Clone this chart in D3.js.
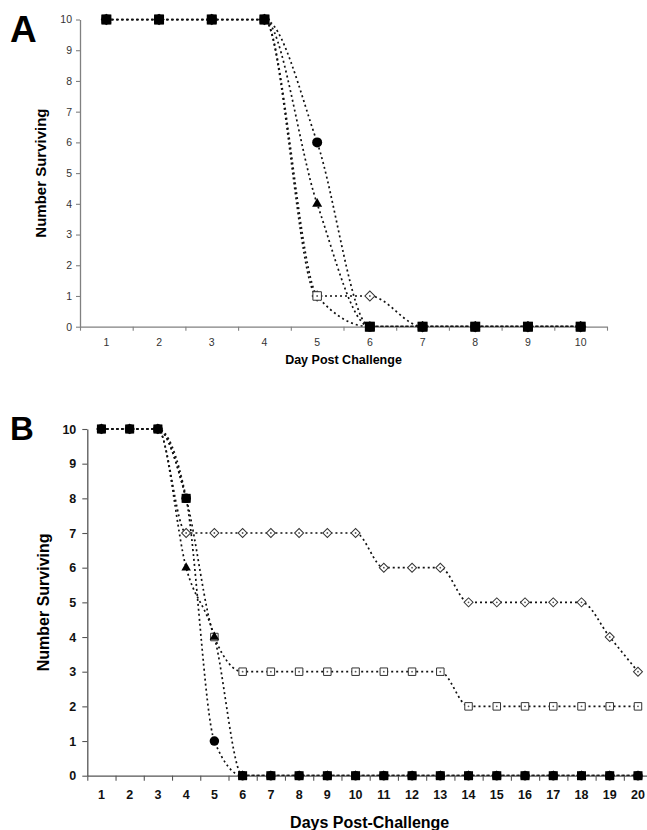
<!DOCTYPE html>
<html>
<head>
<meta charset="utf-8">
<script src="https://cdn.jsdelivr.net/npm/d3@7"></script>
<style>
  body { margin: 0; background: white; }
  text { font-family: "Liberation Sans", Arial, sans-serif; }
</style>
</head>
<body>
<script>
// Panel A
const daysA = [1, 2, 3, 4, 5, 6, 7, 8, 9, 10];
const aFilledSquare = [10, 10, 10, 10, null, 0, 0, 0, 0, 0];
const aCircle = [10, 10, 10, 10, 6, 0, 0, 0, 0, 0];
const aTriangle = [10, 10, 10, 10, 4, 0, 0, 0, 0, 0];
const aOpenSquare = [10, 10, 10, 10, 1, 0, 0, 0, 0, 0];
const aDiamond = [10, 10, 10, 10, 1, 1, 0, 0, 0, 0];

// Panel B
const daysB = [1, 2, 3, 4, 5, 6, 7, 8, 9, 10, 11, 12, 13, 14, 15, 16, 17, 18, 19, 20];
const bFilledSquare = [10, 10, 10, 8, null, 0, 0, 0, 0, 0, 0, 0, 0, 0, 0, 0, 0, 0, 0, 0];
const bCircle = [10, 10, 10, 8, 1, 0, 0, 0, 0, 0, 0, 0, 0, 0, 0, 0, 0, 0, 0, 0];
const bTriangle = [10, 10, 10, 6, 4, 0, 0, 0, 0, 0, 0, 0, 0, 0, 0, 0, 0, 0, 0, 0];
const bOpenSquare = [10, 10, 10, 8, 4, 3, 3, 3, 3, 3, 3, 3, 3, 2, 2, 2, 2, 2, 2, 2];
const bDiamond = [10, 10, 10, 7, 7, 7, 7, 7, 7, 7, 6, 6, 6, 5, 5, 5, 5, 5, 4, 3];

const yTicks = [0, 1, 2, 3, 4, 5, 6, 7, 8, 9, 10];

const svg = d3.select("body").append("svg")
    .attr("width", 647)
    .attr("height", 830);

function marker(g, kind, s) {
    if (kind === "filledSquare") {
        g.append("path").attr("d", d3.symbol(d3.symbolSquare, s * s)()).attr("fill", "#000");
    } else if (kind === "circle") {
        g.append("path").attr("d", d3.symbol(d3.symbolCircle, Math.PI * s * s / 4)()).attr("fill", "#000");
    } else if (kind === "triangle") {
        g.append("path").attr("d", d3.symbol(d3.symbolTriangle, Math.sqrt(3) / 4 * s * s)()).attr("fill", "#000");
    } else if (kind === "openSquare") {
        g.append("path").attr("d", d3.symbol(d3.symbolSquare, s * s)())
            .attr("fill", "#fff").attr("stroke", "#333").attr("stroke-width", 1);
        g.append("circle").attr("r", 0.9).attr("fill", "#555");
    } else if (kind === "diamond") {
        g.append("path").attr("d", d3.symbol(d3.symbolSquare, s * s / 2)())
            .attr("transform", "rotate(45)")
            .attr("fill", "#fff").attr("stroke", "#333").attr("stroke-width", 1);
        g.append("circle").attr("r", 0.9).attr("fill", "#555");
    }
}

function drawPanel(cfg) {
    const g = svg.append("g");
    const x = d3.scaleBand().domain(cfg.days).range([cfg.x0, cfg.x1]);
    const xEdge = d3.scaleLinear().domain([0, cfg.days.length]).range([cfg.x0, cfg.x1]);
    const y = d3.scaleLinear().domain([0, 10]).range([cfg.yBottom, cfg.yTop]);

    // axes
    const yAxis = g.append("g")
        .attr("transform", `translate(${cfg.x0},0)`)
        .call(d3.axisLeft(y).tickValues(yTicks).tickSize(cfg.tick).tickPadding(cfg.yPad).tickSizeOuter(0));
    const xLabels = g.append("g")
        .attr("transform", `translate(0,${cfg.yBottom})`)
        .call(d3.axisBottom(x).tickSize(0).tickPadding(cfg.xPad));
    xLabels.select(".domain").remove();
    const xTicks = g.append("g")
        .attr("transform", `translate(0,${cfg.yBottom})`)
        .call(d3.axisBottom(xEdge).tickValues(d3.range(cfg.days.length + 1)).tickSize(cfg.tick).tickFormat("").tickSizeOuter(0));

    [yAxis, xTicks].forEach(a => {
        a.selectAll(".domain").attr("stroke", cfg.axisColor).attr("stroke-width", 1.3);
        a.selectAll(".tick line").attr("stroke", cfg.axisColor).attr("stroke-width", 1.1);
    });
    [yAxis, xLabels].forEach(a => {
        a.selectAll("text")
            .attr("font-family", "Liberation Sans, Arial, sans-serif")
            .attr("font-size", cfg.tickFont)
            .attr("font-weight", cfg.tickWeight)
            .attr("fill", cfg.tickColor);
    });

    // clip for lines
    const clipId = "clip" + cfg.name;
    g.append("clipPath").attr("id", clipId)
        .append("rect")
        .attr("x", cfg.x0).attr("y", cfg.yTop - 1)
        .attr("width", cfg.x1 - cfg.x0 + 2).attr("height", cfg.yBottom - cfg.yTop + 1);

    const line = d3.line()
        .defined(d => d.v != null)
        .x(d => x(d.day) + x.bandwidth() / 2)
        .y(d => y(d.v))
        .curve(d3.curveMonotoneX);

    const lineG = g.append("g").attr("clip-path", `url(#${clipId})`);
    cfg.series.forEach(s => {
        const pts = cfg.days.map((day, i) => ({ day: day, v: s.values[i] }));
        lineG.append("path")
            .datum(pts)
            .attr("d", line)
            .attr("fill", "none")
            .attr("stroke", "#111")
            .attr("stroke-width", 1.7)
            .attr("stroke-dasharray", "2,3");
    });

    cfg.series.forEach(s => {
        cfg.days.forEach((day, i) => {
            if (s.values[i] == null) return;
            const mg = g.append("g")
                .attr("transform", `translate(${x(day) + x.bandwidth() / 2},${y(s.values[i])})`);
            marker(mg, s.kind, cfg.sizes[s.kind]);
        });
    });

    // labels
    g.append("text")
        .attr("x", cfg.letterX).attr("y", cfg.letterY)
        .attr("font-size", cfg.letterSize).attr("font-weight", "bold")
        .text(cfg.name);
    g.append("text")
        .attr("transform", `translate(${cfg.yTitleX},${(cfg.yTop + cfg.yBottom) / 2}) rotate(-90)`)
        .attr("text-anchor", "middle")
        .attr("font-size", cfg.titleSizeY).attr("font-weight", "bold")
        .text("Number Surviving");
    g.append("text")
        .attr("x", (cfg.x0 + cfg.x1) / 2).attr("y", cfg.xTitleY)
        .attr("text-anchor", "middle")
        .attr("font-size", cfg.titleSizeX).attr("font-weight", "bold")
        .text(cfg.xTitle);
}

drawPanel({
    name: "A",
    days: daysA,
    x0: 80, x1: 607, yTop: 19.5, yBottom: 326.7,
    tick: 4, yPad: 4, xPad: 12,
    axisColor: "#808080", tickFont: 10.5, tickWeight: "normal", tickColor: "#333",
    letterX: 10, letterY: 42, letterSize: 37,
    yTitleX: 46, titleSizeY: 15,
    xTitle: "Day Post Challenge", xTitleY: 363.5, titleSizeX: 12.5,
    sizes: { filledSquare: 10, circle: 10, triangle: 10, openSquare: 8.5, diamond: 10 },
    series: [
        { kind: "diamond", values: aDiamond },
        { kind: "openSquare", values: aOpenSquare },
        { kind: "triangle", values: aTriangle },
        { kind: "circle", values: aCircle },
        { kind: "filledSquare", values: aFilledSquare }
    ]
});

drawPanel({
    name: "B",
    days: daysB,
    x0: 87.3, x1: 652.1, yTop: 429, yBottom: 775.7,
    tick: 5, yPad: 6, xPad: 14,
    axisColor: "#555", tickFont: 12.5, tickWeight: "bold", tickColor: "#111",
    letterX: 10, letterY: 440, letterSize: 33,
    yTitleX: 49, titleSizeY: 16,
    xTitle: "Days Post-Challenge", xTitleY: 828, titleSizeX: 16,
    sizes: { filledSquare: 9, circle: 9.5, triangle: 9.5, openSquare: 7.5, diamond: 9 },
    series: [
        { kind: "openSquare", values: bOpenSquare },
        { kind: "diamond", values: bDiamond },
        { kind: "triangle", values: bTriangle },
        { kind: "filledSquare", values: bFilledSquare },
        { kind: "circle", values: bCircle }
    ]
});
</script>
</body>
</html>
